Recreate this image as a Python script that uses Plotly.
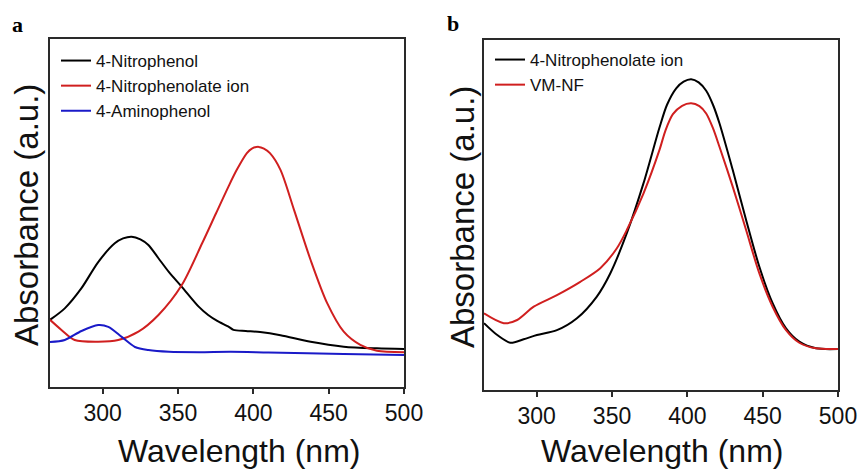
import plotly.graph_objects as go

W, H = 863, 472
FONT = "Liberation Sans, Arial, sans-serif"

# ---------------- Panel a data (absorbance, a.u.) ----------------
a_np_wl = [265, 274.8, 285.9, 297, 308, 313.5, 319.2, 325, 330.3, 337, 344, 352.5, 363.7, 370, 376, 383.7, 386.8, 395, 404.5, 418, 438, 460, 482, 500]
a_np_abs = [0.193, 0.226, 0.284, 0.359, 0.413, 0.427, 0.432, 0.424, 0.408, 0.370, 0.330, 0.288, 0.231, 0.207, 0.190, 0.173, 0.164, 0.161, 0.158, 0.149, 0.130, 0.116, 0.111, 0.109]

a_npi_wl = [265, 272.6, 281.4, 297, 310.3, 323.7, 337, 352.5, 366, 375, 383.7, 389, 395.7, 399, 403.5, 407, 411, 418, 427, 438, 449, 460, 471, 482, 500]
a_npi_abs = [0.193, 0.164, 0.135, 0.130, 0.135, 0.159, 0.207, 0.293, 0.413, 0.497, 0.578, 0.624, 0.672, 0.685, 0.690, 0.685, 0.672, 0.624, 0.509, 0.365, 0.241, 0.159, 0.121, 0.104, 0.100]

a_ap_wl = [265, 274.8, 285.9, 297, 303.7, 312.6, 321.4, 330.3, 344, 364, 385, 410, 460, 500]
a_ap_abs = [0.129, 0.135, 0.161, 0.178, 0.173, 0.144, 0.115, 0.106, 0.101, 0.100, 0.101, 0.099, 0.095, 0.092]

# ---------------- Panel b data (absorbance, a.u.) ----------------
b_ion_wl = [265, 273.8, 282.5, 291.3, 300.1, 313.4, 326.7, 339.9, 348.8, 359.8, 370.9, 381.5, 386.5, 392.6, 397.5, 402.5, 407.5, 412.5, 417, 421.3, 430.1, 439, 447.8, 456.6, 465.5, 474.3, 485.4, 500]
b_ion_abs = [0.191, 0.157, 0.135, 0.145, 0.157, 0.171, 0.205, 0.267, 0.333, 0.448, 0.591, 0.750, 0.815, 0.862, 0.881, 0.888, 0.879, 0.855, 0.815, 0.762, 0.629, 0.486, 0.352, 0.248, 0.176, 0.138, 0.119, 0.117]

b_vm_wl = [265, 278.1, 287, 298, 313.4, 328.9, 342.2, 353.2, 359.8, 370.9, 381.5, 385.5, 390.4, 396.5, 402.5, 408, 412.5, 417, 421.3, 430.1, 439, 447.8, 456.6, 465.5, 474.3, 485.4, 500]
b_vm_abs = [0.219, 0.191, 0.200, 0.238, 0.271, 0.309, 0.348, 0.405, 0.457, 0.562, 0.686, 0.742, 0.788, 0.812, 0.819, 0.811, 0.790, 0.748, 0.695, 0.581, 0.457, 0.333, 0.238, 0.171, 0.135, 0.119, 0.117]

x_ticks = [300, 350, 400, 450, 500]

BLACK = "#000000"
RED = "#d01f1f"
BLUE = "#1a1ac8"
AX = "#2a2a2a"

fig = go.Figure()


def add(x, y, color, name, xa, ya, leg):
    fig.add_trace(go.Scatter(
        x=x, y=y, mode="lines", name=name,
        line=dict(color=color, width=2, shape="spline", smoothing=0.8),
        xaxis=xa, yaxis=ya, legend=leg))


add(a_np_wl, a_np_abs, BLACK, "4-Nitrophenol", "x", "y", "legend")
add(a_npi_wl, a_npi_abs, RED, "4-Nitrophenolate ion", "x", "y", "legend")
add(a_ap_wl, a_ap_abs, BLUE, "4-Aminophenol", "x", "y", "legend")
add(b_ion_wl, b_ion_abs, BLACK, "4-Nitrophenolate ion", "x2", "y2", "legend2")
add(b_vm_wl, b_vm_abs, RED, "VM-NF", "x2", "y2", "legend2")

xcommon = dict(range=[265, 500], tickvals=x_ticks, ticks="outside", ticklen=5,
               tickwidth=1.5, tickcolor=AX, showline=True, mirror=True,
               linecolor=AX, linewidth=1.5, showgrid=False, zeroline=False,
               automargin=False,
               tickfont=dict(family=FONT, size=23, color="#111"))
ycommon = dict(range=[0, 1], showticklabels=False, ticks="", showline=True,
               mirror=True, linecolor=AX, linewidth=1.5, showgrid=False,
               zeroline=False, automargin=False)

leg = dict(bgcolor="rgba(0,0,0,0)", borderwidth=0, xanchor="left", yanchor="top",
           font=dict(family=FONT, size=17, color="#111"))

fig.update_layout(
    width=W, height=H, autosize=False, margin=dict(l=0, r=0, t=0, b=0),
    paper_bgcolor="white", plot_bgcolor="white",
    xaxis=dict(domain=[50 / W, 404 / W], anchor="y", **xcommon),
    yaxis=dict(domain=[1 - 387 / H, 1 - 39 / H], anchor="x", **ycommon),
    xaxis2=dict(domain=[484 / W, 838 / W], anchor="y2", **xcommon),
    yaxis2=dict(domain=[1 - 390 / H, 1 - 40 / H], anchor="x2", **ycommon),
    legend=dict(x=56 / W, y=1 - 43 / H, **leg),
    legend2=dict(x=490 / W, y=1 - 42 / H, **leg),
    showlegend=True,
)

ann = []
tfont = dict(family=FONT, size=32, color="#111")
ann.append(dict(text="Wavelength (nm)", x=239 / W, y=1 - 451 / H, xref="paper", yref="paper",
                xanchor="center", yanchor="middle", showarrow=False, font=tfont))
ann.append(dict(text="Wavelength (nm)", x=662 / W, y=1 - 451 / H, xref="paper", yref="paper",
                xanchor="center", yanchor="middle", showarrow=False, font=tfont))
yfont = dict(family=FONT, size=33, color="#111")
ann.append(dict(text="Absorbance (a.u.)", x=26 / W, y=1 - 215 / H, xref="paper", yref="paper",
                xanchor="center", yanchor="middle", textangle=-90, showarrow=False, font=yfont))
ann.append(dict(text="Absorbance (a.u.)", x=462 / W, y=1 - 217 / H, xref="paper", yref="paper",
                xanchor="center", yanchor="middle", textangle=-90, showarrow=False, font=yfont))
lfont = dict(family="Liberation Serif, Times New Roman, serif", size=22, color="#000")
ann.append(dict(text="<b>a</b>", x=10 / W, y=1 - 25 / H, xref="paper", yref="paper",
                xanchor="left", yanchor="middle", showarrow=False, font=lfont))
ann.append(dict(text="<b>b</b>", x=445 / W, y=1 - 24 / H, xref="paper", yref="paper",
                xanchor="left", yanchor="middle", showarrow=False, font=lfont))
fig.update_layout(annotations=ann)

fig.write_html("out.html", config={"responsive": False})
